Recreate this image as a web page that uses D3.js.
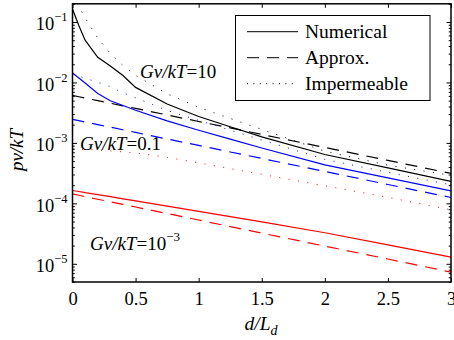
<!DOCTYPE html>
<html>
<head>
<meta charset="utf-8">
<script src="https://cdn.jsdelivr.net/npm/d3@7"></script>
<style>
    body { margin: 0; background: #fff; }
    text { font-family: "Liberation Serif", "Times New Roman", serif; fill: #000; }
</style>
</head>
<body>
<div id="chart"></div>
<script>
// d/L_d sample positions shared by every curve
const dist = [0, 0.05, 0.1, 0.2, 0.3, 0.4, 0.5, 0.75, 1, 1.25, 1.5, 2, 2.5, 3];

// Gv/kT = 10
const num10 = [0.164, 0.0873, 0.05, 0.026, 0.0187, 0.013, 0.00828, 0.0044, 0.00273, 0.00185, 0.00126, 6.43e-4, 3.85e-4, 2.3e-4];
const approx10 = [6.1e-3, 5.8e-3, 5.52e-3, 5.0e-3, 4.53e-3, 4.1e-3, 3.72e-3, 2.9e-3, 2.26e-3, 1.77e-3, 1.38e-3, 8.41e-4, 5.13e-4, 3.13e-4];
const imperm10 = [0.28, 0.179, 0.117, 0.0544, 0.0302, 0.019, 0.0131, 0.0065, 0.00386, 0.00254, 0.00167, 7.29e-4, 4.28e-4, 2.9e-4];

// Gv/kT = 0.1
const num01 = [0.01436, 0.01188, 0.00977, 0.00658, 0.00499, 0.00415, 0.00347, 0.00232, 0.00162, 0.001156, 8.24e-4, 4.33e-4, 2.64e-4, 1.61e-4];
const approx01 = [2.45e-3, 2.33e-3, 2.22e-3, 2.01e-3, 1.82e-3, 1.65e-3, 1.49e-3, 1.16e-3, 9.08e-4, 7.08e-4, 5.53e-4, 3.37e-4, 2.05e-4, 1.25e-4];
const imperm01 = [0.01384, 0.01271, 0.01175, 0.01008, 0.00849, 0.00673, 0.00557, 0.00344, 0.00236, 0.00162, 0.00112, 5.34e-4, 3.26e-4, 2.02e-4];

// Gv/kT = 1e-3
const num001 = [1.63e-4, 1.57e-4, 1.5e-4, 1.39e-4, 1.29e-4, 1.19e-4, 1.1e-4, 8.99e-5, 7.38e-5, 6.03e-5, 4.94e-5, 3.26e-5, 2.06e-5, 1.29e-5];
const approx001 = [1.43e-4, 1.36e-4, 1.29e-4, 1.17e-4, 1.06e-4, 9.61e-5, 8.7e-5, 6.79e-5, 5.3e-5, 4.13e-5, 3.22e-5, 1.96e-5, 1.2e-5, 7.28e-6];
const imperm001 = [7.96e-4, 7.87e-4, 7.78e-4, 7.6e-4, 7.38e-4, 7.1e-4, 6.84e-4, 5.77e-4, 4.68e-4, 3.76e-4, 3.02e-4, 1.95e-4, 1.26e-4, 7.81e-5];

const xTicks = [0, 0.5, 1, 1.5, 2, 2.5, 3];
const yTicks = [1e-5, 1e-4, 1e-3, 1e-2, 1e-1];
const yTickExp = ["−5", "−4", "−3", "−2", "−1"];
const legendNames = ["Numerical", "Approx.", "Impermeable"];

const plot = { left: 72.5, right: 451, top: 3.8, bottom: 282 };

const svg = d3.select("#chart").append("svg")
    .attr("width", 454)
    .attr("height", 340);

const xScale = d3.scaleLinear().domain([0, 3]).range([plot.left, plot.right]);
const yScale = d3.scaleLog().domain([5e-6, 0.2]).range([plot.bottom, plot.top]);

svg.append("clipPath").attr("id", "clip")
    .append("rect")
    .attr("x", plot.left).attr("y", plot.top)
    .attr("width", plot.right - plot.left).attr("height", plot.bottom - plot.top);

// curves
const dashStyle = { solid: null, dashed: "12,8", dotted: "1,8.5" };
const curves = [
    { v: num10, c: "#000", s: "solid" },
    { v: approx10, c: "#000", s: "dashed" },
    { v: imperm10, c: "#000", s: "dotted" },
    { v: num01, c: "#0000ff", s: "solid" },
    { v: approx01, c: "#0000ff", s: "dashed" },
    { v: imperm01, c: "#0000ff", s: "dotted" },
    { v: num001, c: "#ff0000", s: "solid" },
    { v: approx001, c: "#ff0000", s: "dashed" },
    { v: imperm001, c: "#ff0000", s: "dotted" }
];

const line = d3.line()
    .x((d) => xScale(d[0]))
    .y((d) => yScale(d[1]));

const curveG = svg.append("g").attr("clip-path", "url(#clip)");
curves.forEach(function (cv) {
    curveG.append("path")
        .datum(dist.map((d, i) => [d, cv.v[i]]))
        .attr("fill", "none")
        .attr("stroke", cv.c)
        .attr("stroke-width", cv.s === "dotted" ? 1 : 1.2)
        .attr("stroke-dasharray", dashStyle[cv.s])
        .attr("d", line);
});

// axes: ticks point inward on all four sides
const minorTicks = yScale.ticks().filter((t) => yTicks.indexOf(t) < 0);

function noLabels(axis) { return axis.tickFormat("").tickSizeOuter(0); }

const bottomAxis = svg.append("g")
    .attr("transform", `translate(0,${plot.bottom})`)
    .call(d3.axisBottom(xScale).tickValues(xTicks).tickSizeInner(-4).tickSizeOuter(0).tickPadding(10));
svg.append("g")
    .attr("transform", `translate(0,${plot.top})`)
    .call(noLabels(d3.axisTop(xScale).tickValues(xTicks).tickSizeInner(-4)));

const leftAxis = svg.append("g")
    .attr("transform", `translate(${plot.left},0)`)
    .call(noLabels(d3.axisLeft(yScale).tickValues(yTicks).tickSizeInner(-4.5)));
svg.append("g")
    .attr("transform", `translate(${plot.left},0)`)
    .call(noLabels(d3.axisLeft(yScale).tickValues(minorTicks).tickSizeInner(-2.3)));
svg.append("g")
    .attr("transform", `translate(${plot.right},0)`)
    .call(noLabels(d3.axisRight(yScale).tickValues(yTicks).tickSizeInner(-4.5)));
svg.append("g")
    .attr("transform", `translate(${plot.right},0)`)
    .call(noLabels(d3.axisRight(yScale).tickValues(minorTicks).tickSizeInner(-2.3)));

svg.selectAll(".domain").remove();
svg.selectAll(".tick line").attr("stroke", "#000").attr("stroke-width", 1);

bottomAxis.selectAll("text")
    .attr("font-family", "Liberation Serif")
    .attr("font-size", 18.5)
    .text((d) => String(d));

leftAxis.selectAll(".tick").each(function (d, i) {
    const t = d3.select(this).append("text")
        .attr("x", -5)
        .attr("y", 7.8)
        .attr("text-anchor", "end")
        .attr("font-size", 18.5);
    t.append("tspan").text("10");
    t.append("tspan").attr("dy", -9).attr("font-size", 12.5).text(yTickExp[i]);
});

// box
svg.append("rect")
    .attr("x", plot.left).attr("y", plot.top)
    .attr("width", plot.right - plot.left).attr("height", plot.bottom - plot.top)
    .attr("fill", "none")
    .attr("stroke", "#000")
    .attr("stroke-width", 1.5);

// axis labels
svg.append("text")
    .attr("transform", "translate(23,150) rotate(-90)")
    .attr("text-anchor", "middle")
    .attr("font-size", 19)
    .attr("font-style", "italic")
    .text("pv/kT");

const xLab = svg.append("text")
    .attr("x", 261).attr("y", 330)
    .attr("text-anchor", "middle")
    .attr("font-size", 19.5)
    .attr("font-style", "italic");
xLab.append("tspan").text("d/L");
xLab.append("tspan").attr("dy", 5).attr("font-size", 14).text("d");

// curve annotations
function annotate(x, y, value, exp) {
    const t = svg.append("text").attr("x", x).attr("y", y).attr("font-size", 19);
    t.append("tspan").attr("font-style", "italic").text("Gv/kT");
    t.append("tspan").text("=" + value);
    if (exp) t.append("tspan").attr("dy", -9).attr("font-size", 13).text(exp);
}
annotate(140, 78, "10");
annotate(80, 149.5, "0.1");
annotate(90, 250, "10", "−3");

// legend
const legend = svg.append("g");
legend.append("rect")
    .attr("x", 235.5).attr("y", 15.5)
    .attr("width", 194.5).attr("height", 85)
    .attr("fill", "#fff")
    .attr("stroke", "#000")
    .attr("stroke-width", 1);
["solid", "dashed", "dotted"].forEach(function (s, i) {
    const ly = 31.7 + i * 26;
    legend.append("line")
        .attr("x1", 247).attr("x2", 298)
        .attr("y1", ly).attr("y2", ly)
        .attr("stroke", "#000")
        .attr("stroke-width", 1)
        .attr("stroke-dasharray", s === "dotted" ? "1,5.4" : dashStyle[s]);
    legend.append("text")
        .attr("x", 305).attr("y", ly + 6.5)
        .attr("font-size", 19.5)
        .text(legendNames[i]);
});
</script>
</body>
</html>
